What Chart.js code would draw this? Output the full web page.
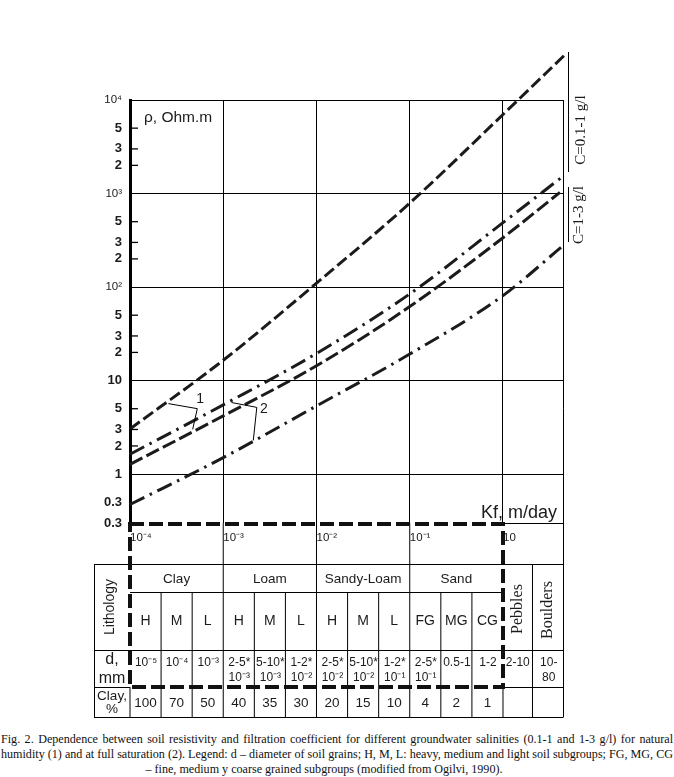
<!DOCTYPE html>
<html>
<head>
<meta charset="utf-8">
<script src="https://cdn.jsdelivr.net/npm/chart.js@4.4.1/dist/chart.umd.min.js"></script>
<style>
html,body{margin:0;padding:0;background:#fff;width:674px;height:777px;overflow:hidden}
#wrap{position:absolute;left:0;top:0;width:674px;height:725px}
#cap{position:absolute;left:1px;top:732px;width:672px;font-family:"Liberation Serif","Times New Roman",serif;font-size:12.1px;color:#111;line-height:15.2px}
#cap div{white-space:nowrap;text-align:justify;text-align-last:justify}
#cap div.c{text-align:center;text-align-last:center;padding-right:26px}
</style>
</head>
<body>
<div id="wrap"><canvas id="c"></canvas></div>
<div id="cap">
<div>Fig. 2. Dependence between soil resistivity and filtration coefficient for different groundwater salinities (0.1-1 and 1-3 g/l) for natural</div>
<div>humidity (1) and at full saturation (2). Legend: d – diameter of soil grains; H, M, L: heavy, medium and light soil subgroups; FG, MG, CG</div>
<div class="c">– fine, medium y coarse grained subgroups (modified from Ogilvi, 1990).</div>
</div>
<script>
// ---------- axis ticks ----------
const kfTicks = [1e-4, 1e-3, 1e-2, 1e-1, 1];
const kfTickLabels = ['10⁻⁴', '10⁻³', '10⁻²', '10⁻¹', '10'];
const rhoTicks = [1e4, 5000, 3000, 2000, 1e3, 500, 300, 200, 100, 50, 30, 20, 10, 5, 3, 2, 1, 0.5, 0.3];
const rhoTickLabels = ['10⁴', '5', '3', '2', '10³', '5', '3', '2', '10²', '5', '3', '2', '10', '5', '3', '2', '1', '0.3', '0.3'];

// ---------- curves (Kf, m/day  ->  rho, Ohm.m) ----------
// C = 0.1-1 g/l, natural humidity (1)
const kfLowHumid = [1e-4, 1e-3, 1e-2, 1e-1, 1, 4.86];
const rhoLowHumid = [3.04, 16.5, 110, 790, 7000, 32000];
// C = 0.1-1 g/l, full saturation (2)
const kfLowSat = [1e-4, 1e-3, 1e-2, 1e-1, 1, 4.4];
const rhoLowSat = [1.63, 5.5, 19.5, 84.5, 488, 1530];
// C = 1-3 g/l, natural humidity (1)
const kfHighHumid = [1e-4, 1e-3, 1e-2, 1e-1, 1, 4.08];
const rhoHighHumid = [1.27, 4.19, 14.4, 61.8, 337, 1030];
// C = 1-3 g/l, full saturation (2)
const kfHighSat = [1e-4, 1e-3, 1e-2, 1e-1, 1, 4.19];
const rhoHighSat = [0.473, 1.5, 5.36, 19.2, 81, 265];

// ---------- lithology table ----------
const lithGroups = ['Clay', 'Loam', 'Sandy-Loam', 'Sand'];
const subgroups = ['H', 'M', 'L', 'H', 'M', 'L', 'H', 'M', 'L', 'FG', 'MG', 'CG'];
const grainSize = [['10⁻⁵'], ['10⁻⁴'], ['10⁻³'], ['2-5*', '10⁻³'], ['5-10*', '10⁻³'], ['1-2*', '10⁻²'],
                   ['2-5*', '10⁻²'], ['5-10*', '10⁻²'], ['1-2*', '10⁻¹'], ['2-5*', '10⁻¹'], ['0.5-1'], ['1-2']];
const clayPercent = ['100', '70', '50', '40', '35', '30', '20', '15', '10', '4', '2', '1'];
const coarseGroups = ['Pebbles', 'Boulders'];
const coarseGrain = [['2-10'], ['10-', '80']];

// ---------- styling ----------
const INK = '#1b1b1b';
const SANS = '"Liberation Sans", Arial, Helvetica, sans-serif';
const SERIF = '"Liberation Serif", "Times New Roman", serif';
const isDecade = v => Math.abs(Math.log10(v) - Math.round(Math.log10(v))) < 1e-6;
const labelFor = (vals, labels, v) => {
  const i = vals.findIndex(t => Math.abs(t - v) / t < 1e-6);
  return i >= 0 ? labels[i] : '';
};
const pts = (xs, ys) => xs.map((x, i) => ({x: x, y: ys[i]}));
const curve = (label, xs, ys, dash) => ({
  label: label, data: pts(xs, ys), borderColor: INK, borderWidth: 3, borderDash: dash,
  borderCapStyle: 'butt', pointRadius: 0, fill: false, cubicInterpolationMode: 'monotone', clip: false
});

const extras = {
  id: 'extras',
  afterDraw(chart) {
    const {ctx, chartArea: a, scales: {x, y}} = chart;
    const X = v => x.getPixelForValue(v), Y = v => y.getPixelForValue(v);
    const line = (x1, y1, x2, y2) => { ctx.beginPath(); ctx.moveTo(x1, y1); ctx.lineTo(x2, y2); ctx.stroke(); };
    const text = (s, px, py, font, align) => {
      ctx.font = font; ctx.textAlign = align || 'center'; ctx.textBaseline = 'middle'; ctx.fillText(s, px, py);
    };
    const vtext = (s, px, py, font) => {
      ctx.save(); ctx.translate(px, py); ctx.rotate(-Math.PI / 2);
      ctx.font = font; ctx.textAlign = 'center'; ctx.textBaseline = 'middle'; ctx.fillText(s, 0, 0); ctx.restore();
    };
    ctx.save();
    ctx.fillStyle = INK; ctx.strokeStyle = '#000';

    // minor ticks on the rho axis
    ctx.lineWidth = 1.3;
    rhoTicks.forEach(v => { if (!isDecade(v) && v >= 2) line(a.left, Y(v), a.left + 8, Y(v)); });

    // leader lines for labels 1 and 2
    ctx.lineWidth = 1;
    ctx.beginPath();
    [[2.58e-4, 5.67], [5.27e-4, 5.01], [4.70e-4, 3.01]].forEach((p, i) => i ? ctx.lineTo(X(p[0]), Y(p[1])) : ctx.moveTo(X(p[0]), Y(p[1])));
    ctx.stroke();
    ctx.beginPath();
    [[1.23e-3, 5.82], [2.29e-3, 5.17], [2.10e-3, 2.29]].forEach((p, i) => i ? ctx.lineTo(X(p[0]), Y(p[1])) : ctx.moveTo(X(p[0]), Y(p[1])));
    ctx.stroke();
    text('1', X(5.64e-4), Y(6.3), '14px ' + SANS);
    text('2', X(2.72e-3), Y(4.95), '14px ' + SANS);

    // axis titles
    text('ρ, Ohm.m', a.left + 14, a.top + 18, '15.5px ' + SANS, 'left');
    ctx.font = '18px ' + SANS; ctx.textAlign = 'right'; ctx.textBaseline = 'alphabetic';
    ctx.fillText('Kf, m/day', a.right - 6, a.bottom - 5);

    // salinity labels on the right
    vtext('C=0.1-1 g/l', a.right + 18, a.top + 30, '15px ' + SERIF);
    vtext('C=1-3 g/l', a.right + 16.5, a.top + 115, '15px ' + SERIF);
    ctx.lineWidth = 1;
    line(a.right + 5.5, a.top - 48, a.right + 5.5, a.top + 72);
    line(a.right + 5.5, a.top + 87, a.right + 5.5, a.top + 142);

    // ---------- table ----------
    const L = a.left - 36;
    const r0 = a.bottom, r1 = a.bottom + 41, r2 = a.bottom + 69, r3 = a.bottom + 127, r4 = a.bottom + 164, r5 = a.bottom + 194;
    const xd = kfTicks.map(X);
    const peb = xd[4] + 29.5;
    const cols = [];
    for (let g = 0; g < 4; g++) for (let k = 0; k < 3; k++) {
      const w = (xd[g + 1] - xd[g]) / 3;
      cols.push([xd[g] + k * w, xd[g] + (k + 1) * w]);
    }
    ctx.lineWidth = 1; ctx.strokeStyle = '#000';
    line(xd[4], r0 + 0.5, a.right, r0 + 0.5);
    line(L, r1 + 0.5, a.right, r1 + 0.5);
    line(a.left, r2 + 0.5, xd[4], r2 + 0.5);
    line(L, r3 + 0.5, a.right, r3 + 0.5);
    line(L, r4 + 0.5, a.left, r4 + 0.5);
    line(xd[4], r4 + 0.5, a.right, r4 + 0.5);
    line(L, r5 + 0.5, a.right, r5 + 0.5);
    line(L + 0.5, r1, L + 0.5, r5);
    line(a.right + 0.5, a.top, a.right + 0.5, r5 + 0.5);
    for (let g = 1; g < 4; g++) line(xd[g], r0, xd[g], r5);
    cols.forEach((c, i) => { if (i % 3) line(c[0], r2, c[0], r5); });
    line(peb, r1, peb, r5);
    line(a.left, r4, a.left, r5);
    line(xd[4], r4, xd[4], r5);

    // thick dashed frame
    ctx.lineWidth = 4; ctx.setLineDash([14, 5]); ctx.strokeStyle = '#111';
    ctx.beginPath();
    ctx.moveTo(a.left, r0 + 1); ctx.lineTo(xd[4], r0 + 1); ctx.lineTo(xd[4], r4); ctx.lineTo(a.left, r4); ctx.closePath();
    ctx.stroke();
    ctx.setLineDash([]);

    // table texts
    vtext('Lithology', (L + a.left) / 2 - 2, (r1 + r3) / 2, '14px ' + SANS);
    lithGroups.forEach((g, i) => text(g, (xd[i] + xd[i + 1]) / 2, (r1 + r2) / 2 + 1, '13.5px ' + SANS));
    vtext(coarseGroups[0], (xd[4] + peb) / 2, (r1 + r3) / 2 + 2, '16px ' + SERIF);
    vtext(coarseGroups[1], (peb + a.right) / 2, (r1 + r3) / 2 + 3, '16px ' + SERIF);
    subgroups.forEach((s, i) => text(s, (cols[i][0] + cols[i][1]) / 2, (r2 + r3) / 2, '14px ' + SANS));
    const dcell = (vals, cx) => {
      vals.forEach((s, j) => text(s, cx, r3 + 13 + j * 15, '12px ' + SANS));
    };
    grainSize.forEach((v, i) => dcell(v, (cols[i][0] + cols[i][1]) / 2 + 0.5));
    dcell(coarseGrain[0], (xd[4] + peb) / 2);
    dcell(coarseGrain[1], (peb + a.right) / 2 + 1);
    clayPercent.forEach((s, i) => text(s, (cols[i][0] + cols[i][1]) / 2, (r4 + r5) / 2 + 1, '13.5px ' + SANS));
    text('d,', (L + a.left) / 2, r3 + 10, '16px ' + SANS);
    text('mm', (L + a.left) / 2, r3 + 29, '16px ' + SANS);
    text('Clay,', (L + a.left) / 2, r4 + 9, '13.5px ' + SANS);
    text('%', (L + a.left) / 2, r4 + 22, '13.5px ' + SANS);
    ctx.restore();
  }
};

new Chart(document.getElementById('c'), {
  type: 'line',
  data: {
    datasets: [
      curve('C=0.1-1 g/l, natural humidity (1)', kfLowHumid, rhoLowHumid, [12, 4.5]),
      curve('C=0.1-1 g/l, full saturation (2)', kfLowSat, rhoLowSat, [16, 6, 2.5, 6]),
      curve('C=1-3 g/l, natural humidity (1)', kfHighHumid, rhoHighHumid, [14, 4.5]),
      curve('C=1-3 g/l, full saturation (2)', kfHighSat, rhoHighSat, [16, 6, 2.5, 6])
    ]
  },
  options: {
    responsive: true, maintainAspectRatio: false, animation: false,
    layout: {padding: {left: 0, top: 100, right: 111, bottom: 172}},
    plugins: {legend: {display: false}, tooltip: {enabled: false}},
    scales: {
      x: {
        type: 'logarithmic', min: 1e-4, max: 4.4, position: 'bottom',
        afterFit: s => { s.height = 30; },
        afterBuildTicks: s => { s.ticks = kfTicks.map(v => ({value: v})); },
        ticks: {autoSkip: false, maxRotation: 0, minRotation: 0, align: 'start', padding: 8, color: INK,
                font: {family: SANS, size: 11.5}, callback: v => labelFor(kfTicks, kfTickLabels, v)},
        grid: {color: '#000', lineWidth: 1, drawTicks: false},
        border: {display: false}
      },
      y: {
        type: 'logarithmic', min: 0.3, max: 1e4,
        afterFit: s => { s.width = 130; },
        afterBuildTicks: s => { s.ticks = rhoTicks.slice().reverse().map(v => ({value: v})); },
        ticks: {autoSkip: false, padding: 8, color: INK,
                font: c => (c.tick && c.tick.value >= 100 && isDecade(c.tick.value)) ? {family: SANS, size: 11.5} : {family: SANS, size: 13, weight: 'bold'},
                callback: v => labelFor(rhoTicks, rhoTickLabels, v)},
        grid: {color: c => (c.tick && isDecade(c.tick.value)) ? '#000' : 'rgba(0,0,0,0)', lineWidth: 1, drawTicks: false},
        border: {display: true, color: '#000', width: 3}
      }
    }
  },
  plugins: [extras]
});
</script>
</body>
</html>
